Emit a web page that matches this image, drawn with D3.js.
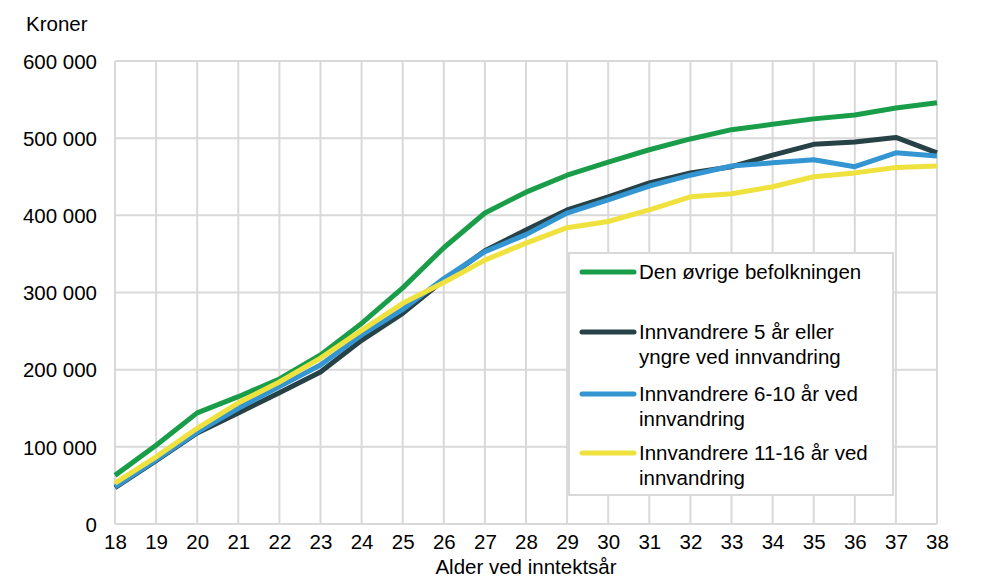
<!DOCTYPE html>
<html>
<head>
<meta charset="utf-8">
<script src="https://cdn.jsdelivr.net/npm/d3@7"></script>
<style>
  body { margin: 0; background: #fff; }
  svg text { font-family: "Liberation Sans", Arial, sans-serif; fill: #000; }
</style>
</head>
<body>
<div id="chart"></div>
<script>
// Data
const ages = d3.range(18, 39);
const yTicks = [0, 100000, 200000, 300000, 400000, 500000, 600000];

const ovrige = [63000, 102000, 144000, 165000, 188000, 219000, 260000, 306000, 358000, 403000, 430000,
                452000, 469000, 485000, 499000, 511000, 518000, 525000, 530000, 539000, 546000];
const innv5 = [47000, 82000, 118000, 144000, 170000, 197000, 238000, 273000, 316000, 354000, 381000,
               407000, 424000, 442000, 455000, 463000, 478000, 492000, 495000, 501000, 481000];
const innv6_10 = [48000, 83000, 119000, 150000, 178000, 206000, 245000, 278000, 318000, 353000, 375000,
                  403000, 420000, 438000, 452000, 464000, 468000, 472000, 463000, 481000, 477000];
const innv11_16 = [53000, 87000, 124000, 157000, 184000, 215000, 251000, 286000, 313000, 342000, 364000,
                   384000, 392000, 407000, 424000, 428000, 437000, 450000, 455000, 462000, 464000];

const series = [
  {name: ["Den øvrige befolkningen"], color: "#1a9d49", values: ovrige},
  {name: ["Innvandrere 5 år eller", "yngre ved innvandring"], color: "#274247", values: innv5},
  {name: ["Innvandrere 6-10 år ved", "innvandring"], color: "#3396d3", values: innv6_10},
  {name: ["Innvandrere 11-16 år ved", "innvandring"], color: "#efe23e", values: innv11_16}
];

var width = 987, height = 579;
var margin = {top: 61, right: 50, bottom: 55, left: 115};
var fs = "20.5px";

const svg = d3.select('#chart').append('svg')
  .attr('width', width)
  .attr('height', height);

var x = d3.scaleLinear()
  .domain([18, 38])
  .range([margin.left, width - margin.right]);

var y = d3.scaleLinear()
  .domain([0, 600000])
  .range([height - margin.bottom, margin.top]);

var fmt = d => d3.format(",")(d).replace(/,/g, " ");

// gridlines
svg.append("g")
  .selectAll("line")
  .data(ages)
  .enter().append("line")
  .attr("x1", d => x(d)).attr("x2", d => x(d))
  .attr("y1", y(600000)).attr("y2", y(0))
  .attr("stroke", "#d9d9d9").attr("stroke-width", 2);

svg.append("g")
  .selectAll("line")
  .data(yTicks)
  .enter().append("line")
  .attr("x1", x(18)).attr("x2", x(38))
  .attr("y1", d => y(d)).attr("y2", d => y(d))
  .attr("stroke", "#d9d9d9").attr("stroke-width", 2);

// y axis labels
var yAxis = svg.append("g")
  .attr("transform", "translate(" + (margin.left - 18) + ",0)")
  .call(d3.axisLeft(y).tickValues(yTicks).tickFormat(fmt).tickSize(0).tickPadding(0));
yAxis.select(".domain").remove();
yAxis.selectAll("text").style("font-size", fs).attr("dy", "0.35em");

// x axis labels
var xAxis = svg.append("g")
  .attr("transform", "translate(0," + (y(0) + 6) + ")")
  .call(d3.axisBottom(x).tickValues(ages).tickFormat(d3.format("d")).tickSize(0).tickPadding(4));
xAxis.select(".domain").remove();
xAxis.selectAll("text").style("font-size", fs);

svg.append("text")
  .attr("x", 26).attr("y", 31)
  .style("font-size", fs)
  .text("Kroner");

svg.append("text")
  .attr("x", (x(18) + x(38)) / 2).attr("y", 574)
  .attr("text-anchor", "middle")
  .style("font-size", fs)
  .text("Alder ved inntektsår");

// lines
var line = d3.line()
  .x((d, i) => x(ages[i]))
  .y(d => y(d));

svg.append("g")
  .selectAll("path")
  .data(series)
  .enter().append("path")
  .attr("d", d => line(d.values))
  .attr("fill", "none")
  .attr("stroke", d => d.color)
  .attr("stroke-width", 5)
  .attr("stroke-linejoin", "round");

// legend
var legend = svg.append("g");
legend.append("rect")
  .attr("x", 569).attr("y", 253)
  .attr("width", 324).attr("height", 242)
  .attr("fill", "#fff")
  .attr("stroke", "#d9d9d9").attr("stroke-width", 2);

var legendY = [272, 332, 394, 453];
series.forEach((s, i) => {
  legend.append("line")
    .attr("x1", 582).attr("x2", 634)
    .attr("y1", legendY[i]).attr("y2", legendY[i])
    .attr("stroke", s.color).attr("stroke-width", 5)
    .attr("stroke-linecap", "round");
  s.name.forEach((t, j) => {
    legend.append("text")
      .attr("x", 639).attr("y", legendY[i] + j * 25)
      .attr("dy", "0.35em")
      .style("font-size", fs)
      .text(t);
  });
});
</script>
</body>
</html>
